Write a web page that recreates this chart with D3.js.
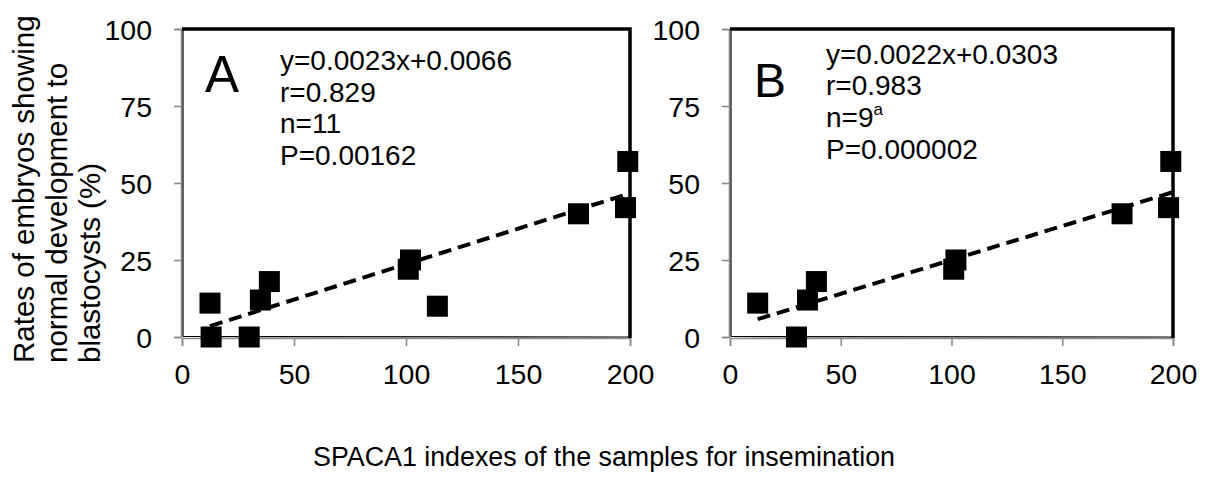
<!DOCTYPE html>
<html><head><meta charset="utf-8">
<script src="https://cdn.jsdelivr.net/npm/d3@7"></script>
<style>body{margin:0;background:#fff}svg{display:block}text{font-family:"Liberation Sans",Arial,sans-serif;fill:#000}</style>
</head><body>
<svg id="c" width="1208" height="487"></svg>
<script>
// Data
const xA = [12.5, 13, 30, 35, 39, 101, 102, 114, 177, 198, 199];
const yA = [11, 0, 0, 12, 18, 22, 25, 10, 40, 42, 57];
const xB = [12.5, 30, 35, 39, 101, 102, 177, 198, 199];
const yB = [11, 0, 12, 18, 22, 25, 40, 42, 57];
const fitA = {slope: 0.23, intercept: 0.66};
const fitB = {slope: 0.22, intercept: 3.03};
const statsA = ["y=0.0023x+0.0066", "r=0.829", "n=11", "P=0.00162"];
const statsB = ["y=0.0022x+0.0303", "r=0.983", "n=9", "P=0.000002"];
const xTicks = [0, 50, 100, 150, 200];
const yTicks = [0, 25, 50, 75, 100];
const yTitle = ["Rates of embryos showing", "normal development to", "blastocysts (%)"];
const xTitle = "SPACA1 indexes of the samples for insemination";

const svg = d3.select("#c");

function panel(cfg) {
  const {x0, x1, y0, y1, xs, ys, fit, stats, letter, letterSize, lx, ly, tx, ty, sup} = cfg;
  const x = d3.scaleLinear().domain([0, 200]).range([x0, x1]);
  const y = d3.scaleLinear().domain([0, 100]).range([y1, y0]);
  const g = svg.append("g");
  // axes
  const ya = g.append("g").attr("transform", `translate(${x0-1},0)`)
    .call(d3.axisLeft(y).tickValues(yTicks).tickSize(7).tickPadding(22).tickFormat(d3.format("d")));
  const xa = g.append("g").attr("transform", `translate(0,${y1+1})`)
    .call(d3.axisBottom(x).tickValues(xTicks).tickSize(8).tickPadding(17).tickFormat(d3.format("d")));
  [ya, xa].forEach(a => {
    a.selectAll("path.domain").attr("stroke", "#8c8c8c").attr("stroke-width", 1.6);
    a.selectAll(".tick line").attr("stroke", "#8c8c8c").attr("stroke-width", 1.6);
    a.selectAll(".tick text").style("font-size", "28.5px").attr("fill", "#000");
  });
  ya.selectAll(".tick text").attr("dy", "0.36em");
  xa.selectAll(".tick text").attr("dy", "0.72em");
  // frame
  g.append("path")
    .attr("d", `M${x0+1},${y1-0.5} L${x0+1},${y0} L${x1},${y0} L${x1},${y1} L${x0+1},${y1-0.5}`)
    .attr("fill", "none").attr("stroke", "#000").attr("stroke-width", 1.2);
  g.append("path")
    .attr("d", `M${x0},${y0} L${x1},${y0} L${x1},${y1+1}`)
    .attr("fill", "none").attr("stroke", "#000").attr("stroke-width", 3.5);
  // fit line
  const fx0 = d3.min(xs), fx1 = 200;
  g.append("line")
    .attr("x1", x(fx0)).attr("y1", y(fit.slope*fx0 + fit.intercept))
    .attr("x2", x(fx1)).attr("y2", y(fit.slope*fx1 + fit.intercept))
    .attr("stroke", "#000").attr("stroke-width", 4).attr("stroke-dasharray", "13,7");
  // points
  const s = 21;
  g.selectAll("rect.pt").data(xs.map((d, i) => [d, ys[i]])).join("rect")
    .attr("class", "pt")
    .attr("x", d => x(d[0]) - s/2).attr("y", d => y(d[1]) - s/2)
    .attr("width", s).attr("height", s).attr("fill", "#000");
  // letter
  g.append("text").attr("x", lx).attr("y", ly).style("font-size", letterSize + "px").text(letter);
  // stats
  stats.forEach((t, i) => {
    const te = g.append("text").attr("x", tx).attr("y", ty + i*31.7).style("font-size", "28px").text(t);
    if (sup && i === 2) {
      te.append("tspan").attr("dy", -12).style("font-size", "17px").text(sup);
    }
  });
}

panel({x0: 182, x1: 630, y0: 29, y1: 337, xs: xA, ys: yA, fit: fitA, stats: statsA,
  letter: "A", letterSize: 51, lx: 205, ly: 91.5, tx: 280, ty: 70});
panel({x0: 730, x1: 1173, y0: 29, y1: 337, xs: xB, ys: yB, fit: fitB, stats: statsB,
  letter: "B", letterSize: 48, lx: 754, ly: 96.5, tx: 826, ty: 63.5, sup: "a"});

// y title
const yt = svg.append("text").attr("transform", "translate(0,363) rotate(-90)")
  .style("font-size", "29.5px");
yTitle.forEach((t, i) => {
  yt.append("tspan").attr("x", 0).attr("y", 34 + i*33).text(t);
});
// x title
svg.append("text").attr("x", 604).attr("y", 466).attr("text-anchor", "middle")
  .style("font-size", "26.8px").text(xTitle);
</script>
</body></html>
